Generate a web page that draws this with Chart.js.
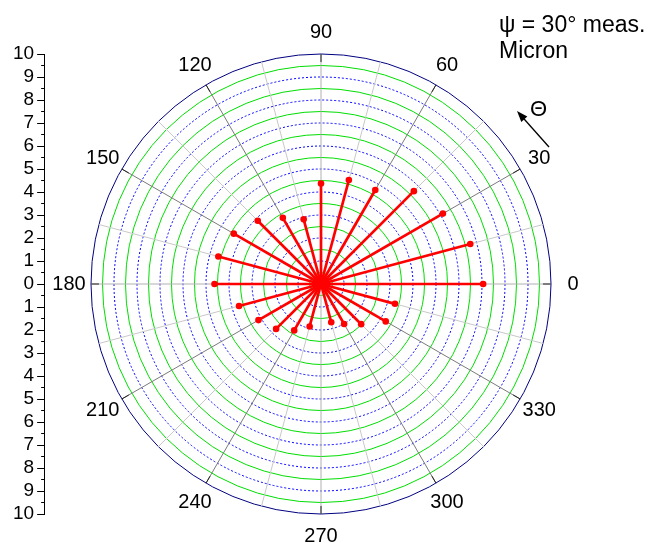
<!DOCTYPE html>
<html><head><meta charset="utf-8">
<script src="https://cdn.jsdelivr.net/npm/chart.js@4/dist/chart.umd.min.js"></script>
<style>
html,body{margin:0;padding:0;background:#fff;}
#wrap{position:relative;width:649px;height:543px;overflow:hidden;}
canvas{display:block;}
.t{position:absolute;font-family:"Liberation Sans",Arial,sans-serif;color:#000;white-space:nowrap;}
</style></head><body>
<div id="wrap">
<canvas id="c" width="649" height="543"></canvas>
<div class="t" style="left:499px;top:11px;font-size:23px;line-height:26px;">ψ = 30° meas.<br>Micron</div>
<div class="t" style="left:530px;top:96px;font-size:22px;line-height:26px;">Θ</div>
</div>
<script>
// ---- data ----
const angles = [0, 15, 30, 45, 60, 75, 90, 105, 120, 135, 150, 165, 180, 195, 210, 225, 240, 255, 270, 285, 300, 315, 330, 345];
const radii  = [7.05, 6.72, 6.12, 5.71, 4.72, 4.68, 4.37, 2.91, 3.32, 3.89, 4.38, 4.62, 4.63, 3.69, 3.14, 2.76, 2.33, 1.91, null, 1.72, 2.01, 2.47, 3.25, 3.33];
const angleTickLabels = ['0', '30', '60', '90', '120', '150', '180', '210', '240', '270', '300', '330'];
const radiusMax = 10;
const radiusStep = 0.5;

// radar draws clockwise from the start angle, so order the categories clockwise from 0°
const n = angles.length;
const order = angles.map((_, k) => (n - k) % n);
const chartLabels = order.map(i => angles[i]);
const chartData = order.map(i => radii[i]);

const FONT = '"Liberation Sans", Arial, sans-serif';
Chart.defaults.font.family = FONT;
Chart.defaults.color = '#000';

const polarExtras = {
  id: 'polarExtras',
  beforeDatasetsDraw(chart) {
    const s = chart.scales.r, ctx = chart.ctx;
    // inward ticks on the outer circle
    ctx.save();
    ctx.strokeStyle = '#222';
    ctx.lineWidth = 1;
    chartLabels.forEach((a, i) => {
      if (!angleTickLabels.includes(String(a))) return;
      const p1 = s.getPointPosition(i, s.drawingArea);
      const p2 = s.getPointPosition(i, s.drawingArea - 8);
      ctx.beginPath(); ctx.moveTo(p1.x, p1.y); ctx.lineTo(p2.x, p2.y); ctx.stroke();
    });
    ctx.restore();
    // spokes from centre to each measured point
    const meta = chart.getDatasetMeta(0);
    ctx.save();
    ctx.strokeStyle = '#ff0000';
    ctx.lineWidth = 2.7;
    meta.data.forEach(el => {
      if (el.skip) return;
      ctx.beginPath(); ctx.moveTo(s.xCenter, s.yCenter); ctx.lineTo(el.x, el.y); ctx.stroke();
    });
    ctx.restore();
  },
  afterDraw(chart) {
    const s = chart.scales.r, ctx = chart.ctx;
    ctx.save();
    ctx.fillStyle = '#000';
    ctx.font = '20px ' + FONT;
    ctx.textAlign = 'center';
    ctx.textBaseline = 'middle';
    chartLabels.forEach((a, i) => {
      const txt = String(a);
      if (!angleTickLabels.includes(txt)) return;
      const p = s.getPointPosition(i, s.drawingArea + 22);
      ctx.fillText(txt, p.x, p.y);
    });
    // theta direction arrow
    const x1 = 549, y1 = 147, x2 = 517, y2 = 111;
    const ang = Math.atan2(y2 - y1, x2 - x1);
    ctx.strokeStyle = '#000'; ctx.lineWidth = 1.3;
    ctx.beginPath(); ctx.moveTo(x1, y1); ctx.lineTo(x2 - 6 * Math.cos(ang), y2 - 6 * Math.sin(ang)); ctx.stroke();
    ctx.beginPath();
    ctx.moveTo(x2, y2);
    ctx.lineTo(x2 - 11 * Math.cos(ang) + 4 * Math.sin(ang), y2 - 11 * Math.sin(ang) - 4 * Math.cos(ang));
    ctx.lineTo(x2 - 11 * Math.cos(ang) - 4 * Math.sin(ang), y2 - 11 * Math.sin(ang) + 4 * Math.cos(ang));
    ctx.closePath(); ctx.fill();
    ctx.restore();
  }
};

new Chart(document.getElementById('c'), {
  type: 'radar',
  data: {
    labels: chartLabels,
    datasets: [{
      data: chartData,
      showLine: false,
      fill: false,
      pointRadius: 3.3,
      pointHoverRadius: 3.3,
      pointBackgroundColor: '#ff0000',
      pointBorderColor: '#ff0000',
      pointBorderWidth: 0
    }]
  },
  options: {
    responsive: false,
    animation: false,
    events: [],
    layout: { padding: { left: 10, right: 50, top: 54, bottom: 29 } },
    plugins: { legend: { display: false }, tooltip: { enabled: false } },
    scales: {
      r: {
        min: 0, max: radiusMax,
        startAngle: 90,
        ticks: { display: false, stepSize: radiusStep },
        pointLabels: { display: false },
        grid: {
          circular: true,
          lineWidth: 1,
          color: c => c.tick.value >= radiusMax ? '#000080' : (Number.isInteger(c.tick.value) ? '#0000ff' : '#00dd00')
        },
        border: {
          dash: c => (c.tick && Number.isInteger(c.tick.value) && c.tick.value < radiusMax) ? [2, 2] : []
        },
        angleLines: {
          lineWidth: 1,
          color: c => {
            const a = chartLabels[c.index];
            return a % 90 === 0 ? '#b0b0b0' : (a % 30 === 0 ? '#7a7a7a' : '#c8c8c8');
          }
        }
      },
      y: {
        type: 'linear',
        position: 'left',
        min: -radiusMax, max: radiusMax,
        ticks: {
          stepSize: radiusStep,
          autoSkip: false,
          padding: 3,
          color: '#000',
          font: { size: 19 },
          callback: v => Number.isInteger(v) ? String(Math.abs(v)) : ''
        },
        grid: {
          drawOnChartArea: false,
          drawTicks: true,
          tickLength: 7,
          tickColor: '#000',
          tickWidth: 1,
          tickBorderDash: c => Number.isInteger(c.tick.value) ? [] : [0, 4, 3, 20]
        },
        border: { display: true, color: '#000', width: 1 }
      }
    }
  },
  plugins: [polarExtras]
});
</script>
</body></html>
